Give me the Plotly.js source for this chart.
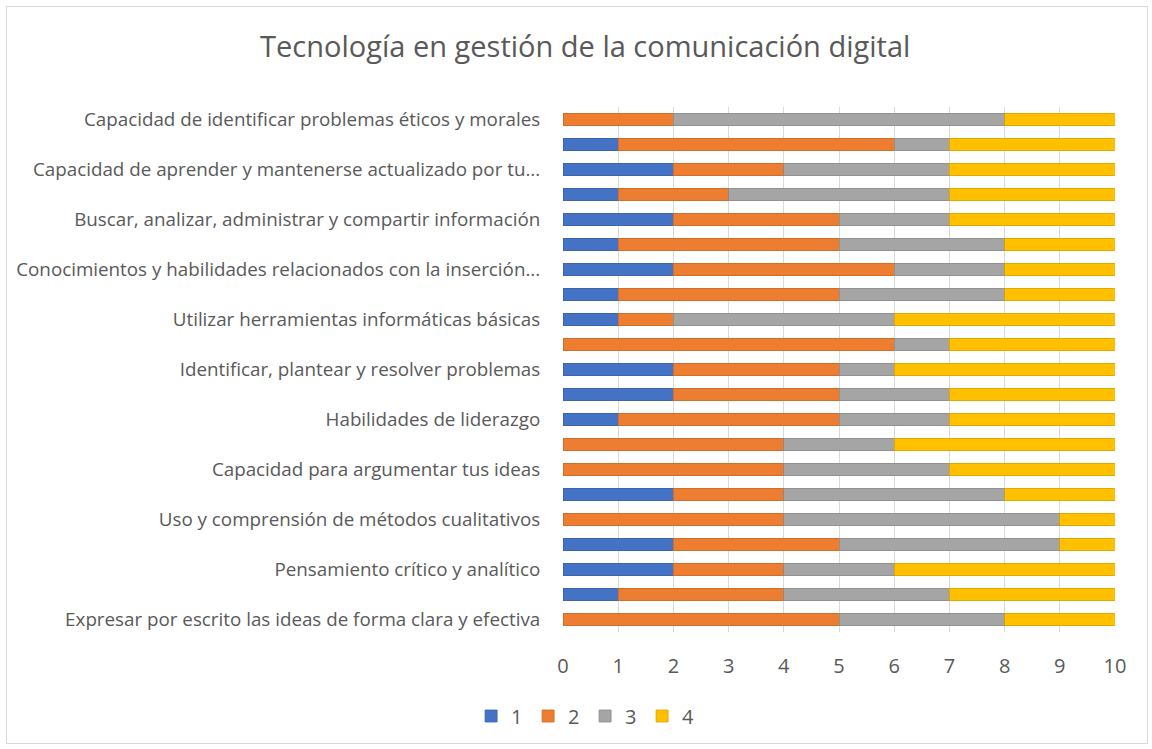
<!DOCTYPE html>
<html>
<head>
<meta charset="utf-8">
<script src="https://cdn.plot.ly/plotly-3.0.1.min.js"></script>
<style>
html,body{margin:0;padding:0;background:#fff;}
#frame{position:absolute;left:6px;top:6px;width:1142px;height:738px;border:1px solid #d9d9d9;box-sizing:border-box;}
#chart{position:absolute;left:0;top:0;width:1152px;height:749px;}
</style>
</head>
<body>
<div id="frame"></div>
<div id="chart"></div>
<script>
// Categories listed top to bottom ('' = label not shown in the original)
const labels = [
  "Capacidad de identificar problemas éticos y morales",
  "",
  "Capacidad de aprender y mantenerse actualizado por tu...",
  "",
  "Buscar, analizar, administrar y compartir información",
  "",
  "Conocimientos y habilidades relacionados con la inserción...",
  "",
  "Utilizar herramientas informáticas básicas",
  "",
  "Identificar, plantear y resolver problemas",
  "",
  "Habilidades de liderazgo",
  "",
  "Capacidad para argumentar tus ideas",
  "",
  "Uso y comprensión de métodos cualitativos",
  "",
  "Pensamiento crítico y analítico",
  "",
  "Expresar por escrito las ideas de forma clara y efectiva"
];
const series1 = [0,1,2,1,2,1,2,1,1,0,2,2,1,0,0,2,0,2,2,1,0];
const series2 = [2,5,2,2,3,4,4,4,1,6,3,3,4,4,4,2,4,3,2,3,5];
const series3 = [6,1,3,4,2,3,2,3,4,1,1,2,2,2,3,4,5,4,2,3,3];
const series4 = [2,3,3,3,3,2,2,2,4,3,4,3,3,4,3,2,1,1,4,3,2];
const seriesNames = ["1","2","3","4"];
const xTicks = [0,1,2,3,4,5,6,7,8,9,10];

const colors = ["#4472C4","#ED7D31","#A5A5A5","#FFC000"];
const edges = ["#3a62a8","#c96a29","#8c8c8c","#d9a300"];
const pos = labels.map((_, i) => i);
const all = [series1, series2, series3, series4];
const traces = all.map((vals, k) => ({
  type: "bar",
  orientation: "h",
  name: seriesNames[k],
  x: vals,
  y: pos,
  marker: {color: colors[k], line: {color: edges[k], width: 0.8}},
  hoverinfo: "x+name"
}));

const tickvals = pos.filter(i => labels[i] !== "");
const ticktext = tickvals.map(i => labels[i]);

const FONT = "'Open Sans', 'Noto Sans', sans-serif";
const layout = {
  width: 1152, height: 749,
  paper_bgcolor: "rgba(0,0,0,0)",
  plot_bgcolor: "rgba(0,0,0,0)",
  barmode: "stack",
  bargap: 0.5,
  margin: {l: 563, r: 37, t: 107, b: 117},
  font: {family: FONT, color: "#595959", size: 19},
  title: {
    text: "Tecnología en gestión de la comunicación digital",
    font: {family: FONT, size: 29, color: "#595959"},
    x: 0.508, xref: "container", xanchor: "center",
    y: 0.938, yref: "container", yanchor: "middle"
  },
  xaxis: {
    range: [0, 10],
    tickvals: xTicks,
    showgrid: true, gridcolor: "#d9d9d9", gridwidth: 1,
    zeroline: false, showline: false,
    ticks: "outside", ticklen: 16, tickcolor: "rgba(0,0,0,0)",
    tickfont: {size: 20, color: "#595959"},
    fixedrange: true
  },
  yaxis: {
    range: [20.5, -0.5],
    tickvals: tickvals, ticktext: ticktext,
    showgrid: false, zeroline: false, showline: false,
    ticks: "outside", ticklen: 18, tickcolor: "rgba(0,0,0,0)",
    tickfont: {size: 18.8, color: "#595959"},
    fixedrange: true
  },
  showlegend: true,
  legend: {
    orientation: "h",
    x: 0.04, xanchor: "center",
    y: -0.16, yanchor: "middle",
    font: {size: 20, color: "#595959"},
    itemwidth: 30,
    entrywidth: 12, entrywidthmode: "pixels",
    traceorder: "normal"
  }
};

Plotly.newPlot("chart", traces, layout, {displayModeBar: false, staticPlot: true});
</script>
</body>
</html>
